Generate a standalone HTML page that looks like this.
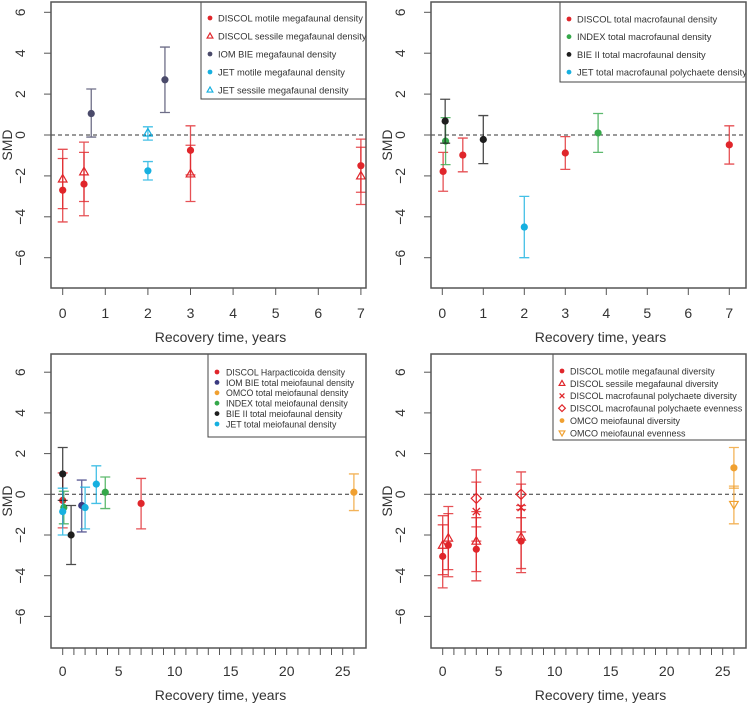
<!DOCTYPE html>
<html><head><meta charset="utf-8"><style>
body{margin:0;background:#fff}
svg{display:block;font-family:"Liberation Sans",Arial,sans-serif}
</style></head><body>
<svg id="c" width="748" height="705" viewBox="0 0 748 705"></svg>
<script>
// ---------- DATA ----------
// Panel 1: megafaunal density
const p1_discolMotile_x=[0,0.5,3,7], p1_discolMotile_y=[-2.7,-2.4,-0.75,-1.5], p1_discolMotile_lo=[-4.25,-3.95,-1.95,-2.8], p1_discolMotile_hi=[-1.15,-0.85,0.45,-0.2];
const p1_discolSessile_x=[0,0.5,3,7], p1_discolSessile_y=[-2.15,-1.8,-1.9,-2.0], p1_discolSessile_lo=[-3.6,-3.25,-3.25,-3.4], p1_discolSessile_hi=[-0.7,-0.35,-0.5,-0.6];
const p1_iom_x=[0.67,2.4], p1_iom_y=[1.05,2.7], p1_iom_lo=[-0.1,1.1], p1_iom_hi=[2.25,4.3];
const p1_jetMotile_x=[2], p1_jetMotile_y=[-1.75], p1_jetMotile_lo=[-2.2], p1_jetMotile_hi=[-1.3];
const p1_jetSessile_x=[2], p1_jetSessile_y=[0.1], p1_jetSessile_lo=[-0.25], p1_jetSessile_hi=[0.4];
// Panel 2: macrofaunal density
const p2_discol_x=[0.02,0.5,3,7], p2_discol_y=[-1.78,-0.98,-0.88,-0.48], p2_discol_lo=[-2.75,-1.8,-1.68,-1.42], p2_discol_hi=[-0.85,-0.15,-0.08,0.45];
const p2_index_x=[0.08,3.8], p2_index_y=[-0.3,0.1], p2_index_lo=[-1.45,-0.85], p2_index_hi=[0.85,1.05];
const p2_bie_x=[0.07,1], p2_bie_y=[0.68,-0.22], p2_bie_lo=[-0.4,-1.4], p2_bie_hi=[1.75,0.95];
const p2_jet_x=[2], p2_jet_y=[-4.5], p2_jet_lo=[-6.0], p2_jet_hi=[-3.0];
// Panel 3: meiofaunal density
const p3_discol_x=[0,7], p3_discol_y=[-0.3,-0.45], p3_discol_lo=[-1.65,-1.7], p3_discol_hi=[1.05,0.78];
const p3_iom_x=[1.7], p3_iom_y=[-0.55], p3_iom_lo=[-1.85], p3_iom_hi=[0.7];
const p3_omco_x=[26], p3_omco_y=[0.1], p3_omco_lo=[-0.8], p3_omco_hi=[1.0];
const p3_index_x=[0.1,3.8], p3_index_y=[-0.65,0.1], p3_index_lo=[-1.45,-0.7], p3_index_hi=[0.15,0.85];
const p3_bie_x=[0,0.75], p3_bie_y=[1.0,-2.0], p3_bie_lo=[-0.3,-3.45], p3_bie_hi=[2.3,-0.55];
const p3_jet_x=[0,2,3], p3_jet_y=[-0.85,-0.65,0.5], p3_jet_lo=[-2.0,-1.7,-0.45], p3_jet_hi=[0.3,0.35,1.4];
// Panel 4: diversity / evenness
const p4_motile_x=[0,0.5,3,7], p4_motile_y=[-3.05,-2.5,-2.7,-2.3], p4_motile_lo=[-4.6,-4.05,-4.25,-3.85], p4_motile_hi=[-1.5,-0.95,-1.15,-0.75];
const p4_sessile_x=[0,0.5,3,7], p4_sessile_y=[-2.5,-2.15,-2.3,-2.1], p4_sessile_lo=[-3.95,-3.7,-3.8,-3.65], p4_sessile_hi=[-1.05,-0.6,-0.85,-0.55];
const p4_polyDiv_x=[3,7], p4_polyDiv_y=[-0.85,-0.65], p4_polyDiv_lo=[-2.3,-1.85], p4_polyDiv_hi=[0.6,0.5];
const p4_polyEven_x=[3,7], p4_polyEven_y=[-0.2,0], p4_polyEven_lo=[-1.6,-1.15], p4_polyEven_hi=[1.2,1.1];
const p4_omcoDiv_x=[26], p4_omcoDiv_y=[1.3], p4_omcoDiv_lo=[0.3], p4_omcoDiv_hi=[2.3];
const p4_omcoEven_x=[26], p4_omcoEven_y=[-0.5], p4_omcoEven_lo=[-1.45], p4_omcoEven_hi=[0.4];

const yTicks=[-6,-4,-2,0,2,4,6];
const xTicksA=[0,1,2,3,4,5,6,7];
const xTicksB=[0,1,2,3,4,5,6,7,8,9,10,11,12,13,14,15,16,17,18,19,20,21,22,23,24,25,26];
const xLabelsB=[0,5,10,15,20,25];

const RED="#e0262b",SLATE="#4a4a6a",CYAN="#16b0e0",GREEN="#35a84a",BLACK="#1e1e1e",ORANGE="#f0a030",NAVY="#3a3a80";

const panels=[
 {id:"p1",L:51,R:366,T:2,B:288,x0:62.7,xs:42.6,y0:135,yu:20.45,ticks:xTicksA,labels:xTicksA,
  leg:{x:201,y:2,w:165,h:97,dy:18,fs:9.3,first:18,tx:17},
  series:[
   ["DISCOL motile megafaunal density",RED,"dot",p1_discolMotile_x,p1_discolMotile_y,p1_discolMotile_lo,p1_discolMotile_hi],
   ["DISCOL sessile megafaunal density",RED,"tri",p1_discolSessile_x,p1_discolSessile_y,p1_discolSessile_lo,p1_discolSessile_hi],
   ["IOM BIE megafaunal density",SLATE,"dot",p1_iom_x,p1_iom_y,p1_iom_lo,p1_iom_hi],
   ["JET motile megafaunal density",CYAN,"dot",p1_jetMotile_x,p1_jetMotile_y,p1_jetMotile_lo,p1_jetMotile_hi],
   ["JET sessile megafaunal density",CYAN,"tri",p1_jetSessile_x,p1_jetSessile_y,p1_jetSessile_lo,p1_jetSessile_hi]]},
 {id:"p2",L:431,R:746,T:2,B:288,x0:442.3,xs:41,y0:135,yu:20.45,ticks:xTicksA,labels:xTicksA,
  leg:{x:560,y:2,w:186,h:80,dy:17.7,fs:9.3,first:19,tx:17},
  series:[
   ["DISCOL total macrofaunal density",RED,"dot",p2_discol_x,p2_discol_y,p2_discol_lo,p2_discol_hi],
   ["INDEX total macrofaunal density",GREEN,"dot",p2_index_x,p2_index_y,p2_index_lo,p2_index_hi],
   ["BIE II total macrofaunal density",BLACK,"dot",p2_bie_x,p2_bie_y,p2_bie_lo,p2_bie_hi],
   ["JET total macrofaunal polychaete density",CYAN,"dot",p2_jet_x,p2_jet_y,p2_jet_lo,p2_jet_hi]]},
 {id:"p3",L:51,R:366,T:354,B:648,x0:62.7,xs:11.2,y0:494.3,yu:20.35,ticks:xTicksB,labels:xLabelsB,
  leg:{x:208,y:354,w:158,h:83,dy:10.4,fs:8.8,first:20,tx:18},
  series:[
   ["DISCOL Harpacticoida density",RED,"dot",p3_discol_x,p3_discol_y,p3_discol_lo,p3_discol_hi],
   ["IOM BIE total meiofaunal density",NAVY,"dot",p3_iom_x,p3_iom_y,p3_iom_lo,p3_iom_hi],
   ["OMCO total meiofaunal density",ORANGE,"dot",p3_omco_x,p3_omco_y,p3_omco_lo,p3_omco_hi],
   ["INDEX total meiofaunal density",GREEN,"dot",p3_index_x,p3_index_y,p3_index_lo,p3_index_hi],
   ["BIE II  total meiofaunal density",BLACK,"dot",p3_bie_x,p3_bie_y,p3_bie_lo,p3_bie_hi],
   ["JET total meiofaunal density",CYAN,"dot",p3_jet_x,p3_jet_y,p3_jet_lo,p3_jet_hi]]},
 {id:"p4",L:431,R:746,T:354,B:648,x0:442.7,xs:11.2,y0:494.3,yu:20.35,ticks:xTicksB,labels:xLabelsB,
  leg:{x:553,y:354,w:193,h:86,dy:12.4,fs:9,first:19,tx:17},
  series:[
   ["DISCOL motile megafaunal diversity",RED,"dot",p4_motile_x,p4_motile_y,p4_motile_lo,p4_motile_hi],
   ["DISCOL sessile megafaunal diversity",RED,"tri",p4_sessile_x,p4_sessile_y,p4_sessile_lo,p4_sessile_hi],
   ["DISCOL macrofaunal polychaete diversity",RED,"x",p4_polyDiv_x,p4_polyDiv_y,p4_polyDiv_lo,p4_polyDiv_hi],
   ["DISCOL macrofaunal polychaete evenness",RED,"dia",p4_polyEven_x,p4_polyEven_y,p4_polyEven_lo,p4_polyEven_hi],
   ["OMCO meiofaunal diversity",ORANGE,"dot",p4_omcoDiv_x,p4_omcoDiv_y,p4_omcoDiv_lo,p4_omcoDiv_hi],
   ["OMCO meiofaunal evenness",ORANGE,"itri",p4_omcoEven_x,p4_omcoEven_y,p4_omcoEven_lo,p4_omcoEven_hi]]}
];

const svg=document.getElementById("c");
const NS="http://www.w3.org/2000/svg";
function el(tag,attrs,parent,text){const e=document.createElementNS(NS,tag);for(const k in attrs)e.setAttribute(k,attrs[k]);if(text!==undefined)e.textContent=text;(parent||svg).appendChild(e);return e;}

function marker(g,shape,cx,cy,col,r){
  let m;
  if(shape==="dot") m=el("circle",{cx:cx,cy:cy,r:r,fill:col},g);
  else if(shape==="tri") m=el("polygon",{points:`${cx},${cy-r*1.25} ${cx-r*1.2},${cy+r*0.85} ${cx+r*1.2},${cy+r*0.85}`,fill:"none",stroke:col,"stroke-width":1.2},g);
  else if(shape==="itri") m=el("polygon",{points:`${cx},${cy+r*1.25} ${cx-r*1.2},${cy-r*0.85} ${cx+r*1.2},${cy-r*0.85}`,fill:"none",stroke:col,"stroke-width":1.2},g);
  else if(shape==="dia") m=el("polygon",{points:`${cx},${cy-r*1.4} ${cx+r*1.4},${cy} ${cx},${cy+r*1.4} ${cx-r*1.4},${cy}`,fill:"none",stroke:col,"stroke-width":1.2},g);
  else m=el("path",{d:`M${cx-r},${cy-r}L${cx+r},${cy+r}M${cx-r},${cy+r}L${cx+r},${cy-r}`,stroke:col,"stroke-width":1.3},g);
  return m;
}

panels.forEach(p=>{
  const g=el("g",{},svg);
  
  
  const X=v=>p.x0+v*p.xs, Y=v=>p.y0-v*p.yu;
  const z=el("line",{x1:p.L,x2:p.R,y1:Y(0),y2:Y(0),stroke:"#333","stroke-dasharray":"4,3","stroke-width":1},g);
  
  
  yTicks.forEach(t=>{
    el("line",{x1:p.L,x2:p.L-7,y1:Y(t),y2:Y(t),stroke:"#555","stroke-width":1},g);
    const tx=el("text",{x:0,y:0,transform:`translate(${p.L-26},${Y(t)}) rotate(-90)`,"text-anchor":"middle","font-size":14,fill:"#333"},g,t<0?"\u2212"+(-t):String(t));
    
    
  });
  const yt=el("text",{x:0,y:0,transform:`translate(${p.L-39},${(p.T+p.B)/2}) rotate(-90)`,"text-anchor":"middle","font-size":14,fill:"#333"},g,"SMD");
  
  
  p.ticks.forEach(t=>{el("line",{x1:X(t),x2:X(t),y1:p.B,y2:p.B+7,stroke:"#555","stroke-width":1},g);});
  p.labels.forEach(t=>{
    const tx=el("text",{x:X(t),y:p.B+(p.T<100?30:28),"text-anchor":"middle","font-size":14,fill:"#333"},g,String(t));
    
    
  });
  const xt=el("text",{x:(p.L+p.R)/2+12,y:p.B+(p.T<100?54:52),"text-anchor":"middle","font-size":14,fill:"#333"},g,"Recovery time, years");
  
  
  p.series.forEach((s,si)=>{
    const [name,col,shape,xs,ys,lo,hi]=s;
    const sg=el("g",{},g);
    
    
    xs.forEach((xv,i)=>{
      const cx=X(xv);
      const eb=el("path",{d:`M${cx},${Y(lo[i])}V${Y(hi[i])}M${cx-5},${Y(lo[i])}H${cx+5}M${cx-5},${Y(hi[i])}H${cx+5}`,stroke:col,"stroke-opacity":0.8,"stroke-width":1.3,fill:"none"},sg);
      
      
      const m=marker(sg,shape,cx,Y(ys[i]),col,3.6);
      
      
    });
  });
  const lg=el("g",{},g);
  
  
  const L=p.leg;
  el("rect",{x:L.x,y:L.y,width:L.w,height:L.h,fill:"#fff",stroke:"#444","stroke-width":1},lg);
  p.series.forEach((s,i)=>{
    const yy=p.T+L.first-2+i*L.dy;
    marker(lg,s[2],L.x+9,yy,s[1],2.4);
    const t=el("text",{x:L.x+L.tx,y:yy+3.4,"font-size":L.fs,fill:"#333"},lg,s[0]);
    
    
  });
  const f=el("rect",{x:p.L,y:p.T,width:p.R-p.L,height:p.B-p.T,fill:"none",stroke:"#555","stroke-width":1.5},g);
  
  
});
</script>
</body></html>
